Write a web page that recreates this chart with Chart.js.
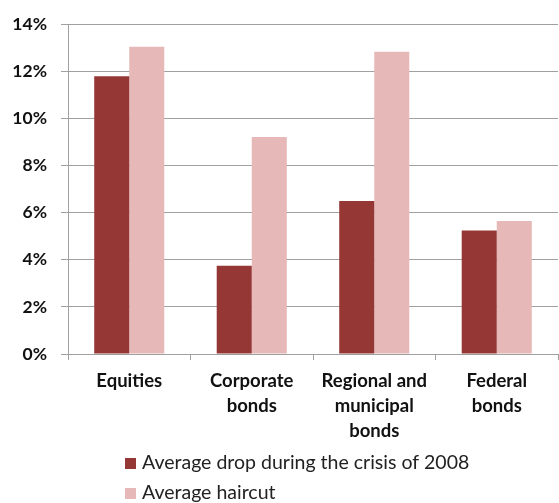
<!DOCTYPE html>
<html>
<head>
<meta charset="utf-8">
<script src="https://cdn.jsdelivr.net/npm/chart.js@4/dist/chart.umd.min.js"></script>
<style>
html,body{margin:0;padding:0;background:#fff;}
#wrap{width:559px;height:503px;position:relative;}
</style>
</head>
<body>
<div id="wrap"><canvas id="c" width="559" height="503"></canvas></div>
<script>
const categories = [["Equities"], ["Corporate", "bonds"], ["Regional and", "municipal", "bonds"], ["Federal", "bonds"]];
const seriesNames = ["Average drop during the crisis of 2008", "Average haircut"];
const dropValues = [11.8, 3.75, 6.5, 5.25];
const haircutValues = [13.05, 9.22, 12.84, 5.65];
const yTicks = [0, 2, 4, 6, 8, 10, 12, 14];

const FONT = "Lato, 'Liberation Sans', sans-serif";
const colors = ["#953735", "#E6B9B8"];

const legendPlugin = {
  id: 'customLegend',
  afterDraw(chart) {
    const ctx = chart.ctx;
    ctx.save();
    ctx.font = "19.5px " + FONT;
    ctx.textBaseline = 'middle';
    ctx.textAlign = 'left';
    chart.data.datasets.forEach((ds, i) => {
      const y = 463 + i * 30;
      ctx.fillStyle = ds.backgroundColor;
      ctx.fillRect(125, y - 5, 11, 11);
      ctx.fillStyle = '#222';
      ctx.fillText(ds.label, 142, y);
    });
    ctx.restore();
  }
};

new Chart(document.getElementById('c'), {
  type: 'bar',
  data: {
    labels: categories,
    datasets: [
      { label: seriesNames[0], data: dropValues, backgroundColor: colors[0] },
      { label: seriesNames[1], data: haircutValues, backgroundColor: colors[1] }
    ]
  },
  options: {
    responsive: false,
    animation: false,
    devicePixelRatio: 1,
    layout: { padding: { top: 22, right: 1, left: 0, bottom: 0 } },
    plugins: { legend: { display: false }, tooltip: { enabled: false } },
    datasets: { bar: { categoryPercentage: 0.572, barPercentage: 1.0 } },
    scales: {
      x: {
        afterFit(scale) { scale.height = 149; },
        grid: { display: true, drawOnChartArea: false, drawTicks: true, tickLength: 6, color: '#a0a0a0', offset: true },
        border: { display: true, color: '#a0a0a0', width: 1 },
        ticks: { color: '#111', font: { family: FONT, size: 18.5, weight: 'bold', lineHeight: 1.37 }, padding: 8, maxRotation: 0, autoSkip: false }
      },
      y: {
        min: 0, max: 14,
        afterFit(scale) { scale.width = 68; },
        afterBuildTicks(scale) { scale.ticks = yTicks.map(v => ({ value: v })); },
        grid: { color: '#a0a0a0', tickLength: 7, drawTicks: true },
        border: { display: true, color: '#a0a0a0', width: 1 },
        ticks: { color: '#111', font: { family: FONT, size: 17.5, weight: 'bold' }, padding: 14, callback: v => v + '%' }
      }
    }
  },
  plugins: [legendPlugin]
});
</script>
</body>
</html>
